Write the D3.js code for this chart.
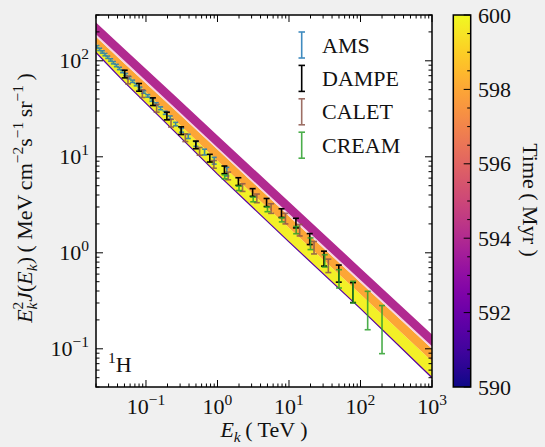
<!DOCTYPE html>
<html><head><meta charset="utf-8">
<script src="https://cdn.jsdelivr.net/npm/d3@7"></script>
<style>
body{margin:0;background:#f0f0f0;}
svg{display:block;}
text{font-family:"Liberation Serif","Times New Roman",serif;fill:#111;}
</style></head><body>
<svg id="chart" width="545" height="447"></svg>
<script>
// ---------------- data ----------------
const bandEnergies = [0.02, 0.05, 0.25, 1, 10, 100, 1000];
const bandMagentaTop = [251, 133, 43.8, 16.7, 3.40, 0.692, 0.141];
const bandMagentaBot = [189, 100, 32.9, 12.5, 2.55, 0.52, 0.106];
const bandOrangeTop  = [178, 94, 31.1, 11.9, 2.41, 0.49, 0.100];
const bandOrangeBot  = [152, 78, 24.5, 9.1, 1.82, 0.37, 0.074];
const bandYellowBot  = [122, 60, 18.4, 6.6, 1.30, 0.262, 0.050];
const bandTimes = {magenta: 594.0, orange: 598.0, yellow: 599.8, edge: 591.5};

const amsE = [0.0206,0.0225,0.0245,0.0267,0.0292,0.0320,0.0350,0.0385,0.0425,0.047,0.052,0.058,0.065,0.073,0.082,0.093,0.106,0.121,0.139,0.160,0.186,0.218,0.260,0.315,0.390,0.500,0.660,0.900,1.35];
const amsV = [140,131.5,123.6,116,109,102,95.5,89.3,83.2,77.3,71.9,66.5,61.2,56.4,51.8,47.3,43.1,39.1,35.4,32.0,28.7,25.6,21.9,18.9,16.3,13.6,11.2,9.1,7.0];
const amsErrDex = [0.012,0.012,0.012,0.012,0.012,0.012,0.012,0.012,0.012,0.012,0.012,0.012,0.012,0.012,0.012,0.013,0.013,0.014,0.014,0.015,0.016,0.017,0.018,0.02,0.022,0.025,0.03,0.035,0.045];

const dampeE = [0.0504,0.080,0.125,0.196,0.310,0.498,0.781,1.25,1.96,3.10,4.86,7.86,12.5,19.5,30.9,49.7,78.5];
const dampeV = [72.8,52.9,37.5,26.6,18.7,13.3,9.67,7.31,5.52,4.25,3.34,2.59,2.04,1.39,0.869,0.607,0.385];
const dampeErrDex = [0.04,0.04,0.04,0.04,0.04,0.04,0.04,0.04,0.04,0.04,0.042,0.045,0.05,0.057,0.078,0.089,0.104];

const caletE = [0.056,0.089,0.141,0.224,0.355,0.562,0.891,1.41,2.24,3.55,5.62,8.91,14.1,22.4,35.5];
const caletV = [63.1,45.5,32.0,22.4,15.8,11.4,8.34,6.32,4.78,3.69,2.89,2.27,1.72,1.13,0.731];
const caletErrDex = [0.04,0.04,0.04,0.04,0.04,0.04,0.04,0.04,0.04,0.045,0.05,0.055,0.06,0.065,0.07];

const creamE  = [1.26,2.0,3.16,5.0,7.94,12.6,20,31.6,50,79,126,200];
const creamV  = [6.2,4.7,3.6,2.84,2.21,1.72,1.24,0.83,0.538,0.396,0.288,0.192];
const creamLo = [5.9,4.45,3.4,2.68,2.1,1.58,1.08,0.711,0.43,0.30,0.158,0.089];
const creamHi = [6.5,4.95,3.8,3.0,2.32,1.88,1.43,0.955,0.667,0.505,0.397,0.282];

const legendNames = ["AMS","DAMPE","CALET","CREAM"];
const legendColors = ["#1f77b4","#000000","#8c564b","#2ca02c"];
const xTickExps = [-1,0,1,2,3];
const yTickExps = [-1,0,1,2];
const cbTicks = [590,592,594,596,598,600];
const cbMinorStep = 0.5;
const cbDomain = [590,600];

// ---------------- layout ----------------
const svg = d3.select("#chart");
const L = 96, R = 432, T = 15, B = 387;
const x = d3.scaleLog().domain([0.02, 1000]).range([L, R]);
const y = d3.scaleLog().domain([0.04, 300]).range([B, T]);
const color = d3.scaleSequential(d3.interpolatePlasma).domain(cbDomain);

svg.append("rect").attr("x",L).attr("y",T).attr("width",R-L).attr("height",B-T).attr("fill","#fff");
svg.append("clipPath").attr("id","clip").append("rect").attr("x",L).attr("y",T).attr("width",R-L).attr("height",B-T);
const g = svg.append("g").attr("clip-path","url(#clip)");

function bandArea(lo, hi){
  const pts = bandEnergies.map((e,i)=>({e, lo: lo[i], hi: hi[i]}));
  return d3.area().x(d=>x(d.e)).y0(d=>y(d.lo)).y1(d=>y(d.hi))(pts);
}
function bandLine(v){
  return d3.line().x(d=>x(d.e)).y(d=>y(d.v))(bandEnergies.map((e,i)=>({e, v:v[i]})));
}
g.append("path").attr("d", bandArea(bandYellowBot, bandOrangeBot)).attr("fill", color(bandTimes.yellow));
g.append("path").attr("d", bandArea(bandOrangeBot, bandOrangeTop)).attr("fill", color(bandTimes.orange));
g.append("path").attr("d", bandArea(bandOrangeTop, bandMagentaBot)).attr("fill", "#f7d3e2");
g.append("path").attr("d", bandArea(bandMagentaBot, bandMagentaTop)).attr("fill", color(bandTimes.magenta));
g.append("path").attr("d", bandLine(bandYellowBot)).attr("fill","none").attr("stroke", color(bandTimes.edge)).attr("stroke-width",1.2);

// error bars
function errorbars(E, lo, hi, col, cap){
  const gg = g.append("g").attr("stroke", col).attr("stroke-width", 1.6).attr("opacity", col==="#000000"?1:0.85);
  E.forEach((e,i)=>{
    const xx = x(e);
    gg.append("line").attr("x1",xx).attr("x2",xx).attr("y1",y(lo[i])).attr("y2",y(hi[i]));
    gg.append("line").attr("x1",xx-cap).attr("x2",xx+cap).attr("y1",y(lo[i])).attr("y2",y(lo[i]));
    gg.append("line").attr("x1",xx-cap).attr("x2",xx+cap).attr("y1",y(hi[i])).attr("y2",y(hi[i]));
  });
}
const dex = (V, D, s) => V.map((v,i)=> v*Math.pow(10, s*D[i]));
errorbars(amsE, dex(amsV, amsErrDex, -1), dex(amsV, amsErrDex, 1), legendColors[0], 2.5);
errorbars(caletE, dex(caletV, caletErrDex, -1), dex(caletV, caletErrDex, 1), legendColors[2], 3);
errorbars(dampeE, dex(dampeV, dampeErrDex, -1), dex(dampeV, dampeErrDex, 1), legendColors[1], 3);
errorbars(creamE, creamLo, creamHi, legendColors[3], 3);

// axes frame & ticks
const ax = svg.append("g").attr("stroke","#000");
const xt = x.ticks(), yt = y.ticks();
const isMajor = v => Math.abs(Math.log10(v) - Math.round(Math.log10(v))) < 1e-6;
xt.forEach(v=>{
  const len = isMajor(v)?7:3.5, xx = x(v);
  ax.append("line").attr("x1",xx).attr("x2",xx).attr("y1",B).attr("y2",B-len).attr("stroke-width",1);
  ax.append("line").attr("x1",xx).attr("x2",xx).attr("y1",T).attr("y2",T+len).attr("stroke-width",1);
});
yt.forEach(v=>{
  const len = isMajor(v)?7:3.5, yy = y(v);
  ax.append("line").attr("y1",yy).attr("y2",yy).attr("x1",L).attr("x2",L+len).attr("stroke-width",1);
  ax.append("line").attr("y1",yy).attr("y2",yy).attr("x1",R).attr("x2",R-len).attr("stroke-width",1);
});
svg.append("rect").attr("x",L).attr("y",T).attr("width",R-L).attr("height",B-T).attr("fill","none").attr("stroke","#000").attr("stroke-width",1.5);

const FS = 22, FSS = 15.5;
function powLabel(sel, exp){
  sel.append("tspan").text("10");
  sel.append("tspan").attr("font-size",FSS).attr("dy",-9).text(exp<0?"\u2212"+(-exp):String(exp));
}
xTickExps.forEach(e=>{
  const t = svg.append("text").attr("x", x(Math.pow(10,e))).attr("y", 413.5).attr("text-anchor","middle").attr("font-size",FS);
  powLabel(t, e);
});
yTickExps.forEach(e=>{
  const t = svg.append("text").attr("x", 89).attr("y", y(Math.pow(10,e))+7.5).attr("text-anchor","end").attr("font-size",FS);
  powLabel(t, e);
});

// x label
const xl = svg.append("text").attr("x", 264).attr("y", 437).attr("text-anchor","middle").attr("font-size",FS);
xl.append("tspan").attr("font-style","italic").text("E");
xl.append("tspan").attr("font-style","italic").attr("font-size",FSS).attr("dy",5).text("k");
xl.append("tspan").attr("dy",-5).text("\u2009( TeV )");

// y label
const yl = svg.append("text").attr("transform","translate(32,198) rotate(-90)").attr("text-anchor","middle").attr("font-size",FS);
yl.append("tspan").attr("font-style","italic").text("E");
yl.append("tspan").attr("font-style","italic").attr("font-size",FSS).attr("dy",5).text("k");
yl.append("tspan").attr("font-size",FSS).attr("dx",-7).attr("dy",-14).text("2");
yl.append("tspan").attr("font-style","italic").attr("dy",9).text("J");
yl.append("tspan").text("(");
yl.append("tspan").attr("font-style","italic").text("E");
yl.append("tspan").attr("font-style","italic").attr("font-size",FSS).attr("dy",5).text("k");
yl.append("tspan").attr("dy",-5).text(")\u2009( MeV\u2009cm");
yl.append("tspan").attr("font-size",FSS).attr("dy",-9).text("\u22122");
yl.append("tspan").attr("dy",9).text("s");
yl.append("tspan").attr("font-size",FSS).attr("dy",-9).text("\u22121");
yl.append("tspan").attr("dy",9).text("\u2009sr");
yl.append("tspan").attr("font-size",FSS).attr("dy",-9).text("\u22121");
yl.append("tspan").attr("dy",9).text("\u2009)");

// 1H label
const hl = svg.append("text").attr("x",108).attr("y",372).attr("font-size",FS);
hl.append("tspan").attr("font-size",FSS).attr("dy",-9).text("1");
hl.append("tspan").attr("dy",9).text("H");

// legend
legendNames.forEach((n,i)=>{
  const cy = 45 + i*33.4;
  const lg = svg.append("g").attr("stroke", legendColors[i]).attr("stroke-width",1.6).attr("opacity", i===1?1:0.85);
  lg.append("line").attr("x1",301.7).attr("x2",301.7).attr("y1",cy-13).attr("y2",cy+13);
  lg.append("line").attr("x1",298.5).attr("x2",305).attr("y1",cy-13).attr("y2",cy-13);
  lg.append("line").attr("x1",298.5).attr("x2",305).attr("y1",cy+13).attr("y2",cy+13);
  svg.append("text").attr("x",322).attr("y",cy+7.5).attr("font-size",FS).text(n);
});

// colorbar
const cbL = 453.3, cbW = 17.4;
const cy = d3.scaleLinear().domain(cbDomain).range([B, T]);
const grad = svg.append("defs").append("linearGradient").attr("id","cbg").attr("x1",0).attr("y1",1).attr("x2",0).attr("y2",0);
d3.range(0, 1.0001, 0.05).forEach(t=> grad.append("stop").attr("offset",t).attr("stop-color", d3.interpolatePlasma(t)));
svg.append("rect").attr("x",cbL).attr("y",T).attr("width",cbW).attr("height",B-T).attr("fill","url(#cbg)");
d3.range(cbDomain[0], cbDomain[1]+1e-6, cbMinorStep).forEach(v=>{
  const major = cbTicks.includes(v);
  svg.append("line").attr("x1",cbL+cbW).attr("x2",cbL+cbW-(major?7:3.5)).attr("y1",cy(v)).attr("y2",cy(v)).attr("stroke","#000").attr("stroke-width",1);
});
svg.append("rect").attr("x",cbL).attr("y",T).attr("width",cbW).attr("height",B-T).attr("fill","none").attr("stroke","#000").attr("stroke-width",1.5);
cbTicks.forEach(v=>{
  svg.append("text").attr("x",478).attr("y",cy(v)+7.5).attr("font-size",FS).text(v);
});
const cl = svg.append("text").attr("transform","translate(523,200) rotate(90)").attr("text-anchor","middle").attr("font-size",FS);
cl.append("tspan").text("Time\u2009( Myr )");
</script>
</body></html>
